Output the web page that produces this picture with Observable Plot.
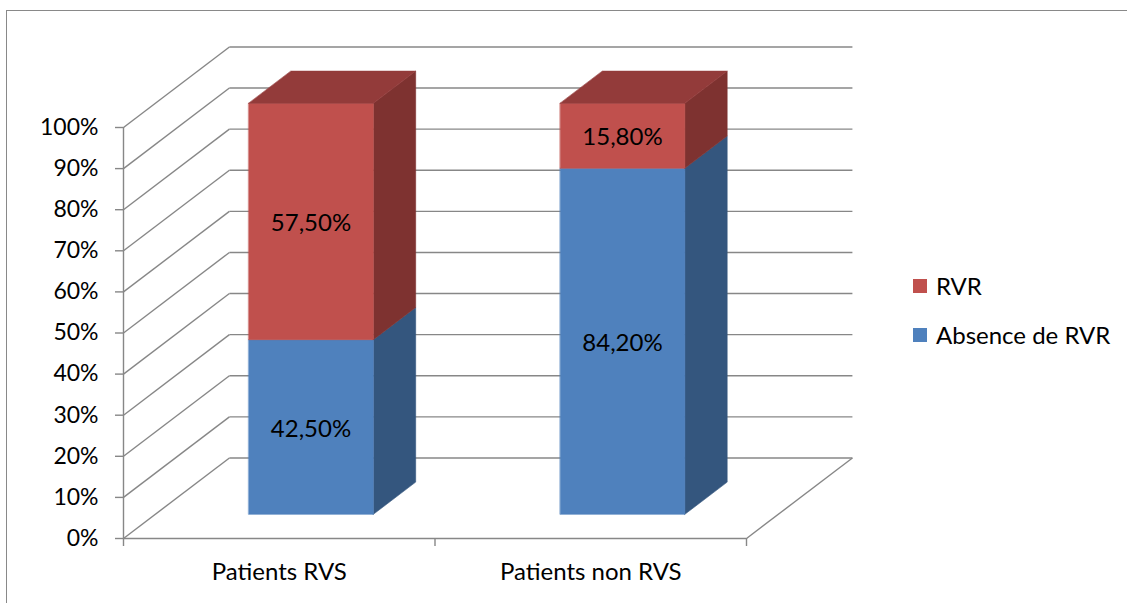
<!DOCTYPE html>
<html>
<head>
<meta charset="utf-8">
<script src="https://cdn.jsdelivr.net/npm/d3@7"></script>
<script src="https://cdn.jsdelivr.net/npm/@observablehq/plot@0.6"></script>
<style>
  html, body { margin: 0; padding: 0; background: #fff; overflow: hidden; }
  #wrap { position: relative; width: 1127px; height: 603px; font-family: Lato, sans-serif; }
  #chart { position: absolute; left: 0; top: 0; }
  #frame { position: absolute; left: 6px; top: 10px; width: 1300px; height: 800px;
           border: 1.6px solid #898989; box-sizing: border-box; pointer-events: none; }
  .leg { position: absolute; left: 913px; font-size: 24px; line-height: 1; color: #000; white-space: nowrap; }
  .sw { position: absolute; left: 0; width: 14px; height: 14px; }
  .lt { position: absolute; left: 23px; }
</style>
</head>
<body>
<div id="wrap">
  <div id="chart"></div>
  <div id="frame"></div>
  <div id="legend"></div>
</div>
<script>
// ---- data ----
const categories = ["Patients RVS", "Patients non RVS"];
const seriesNames = ["Absence de RVR", "RVR"];
const absenceRVR = [42.5, 84.2];
const rvr = [57.5, 15.8];
const yTicks = [0, 10, 20, 30, 40, 50, 60, 70, 80, 90, 100];

// ---- style / geometry ----
const frontColors = {"Absence de RVR": "#4F81BD", "RVR": "#C0504D"};
const sideColors  = {"Absence de RVR": "#34567E", "RVR": "#7E3230"};
const topColors   = {"Absence de RVR": "#3E6594", "RVR": "#933B3A"};
const gridColor = "#878787";
const DX = 0.34;   // depth shift along x (category units)
const DY = 19.6;   // depth shift along y (percent units)
const BAR_W = 0.4, Z0 = 0.3, Z1 = 0.7;
const P = (x, y, z) => [x + z * DX, y + z * DY];

// walls & floor
const leftWall = yTicks.map(t => { const a = P(0, t, 0), b = P(0, t, 1); return {x1: a[0], y1: a[1], x2: b[0], y2: b[1]}; });
const backWall = yTicks.map(t => { const a = P(0, t, 1), b = P(categories.length, t, 1); return {x1: a[0], y1: a[1], x2: b[0], y2: b[1]}; });
const floorEdge = [(() => { const a = P(categories.length, 0, 0), b = P(categories.length, 0, 1); return {x1: a[0], y1: a[1], x2: b[0], y2: b[1]}; })()];

// bars
const faces = [];
const labels = [];
categories.forEach((c, i) => {
  const x0 = i + 0.5 - BAR_W / 2, x1 = i + 0.5 + BAR_W / 2;
  let base = 0;
  const segs = [["Absence de RVR", absenceRVR[i]], ["RVR", rvr[i]]];
  segs.forEach(([name, v], k) => {
    const y0 = base, y1 = base + v;
    faces.push({pts: [P(x1, y0, Z0), P(x1, y0, Z1), P(x1, y1, Z1), P(x1, y1, Z0)], color: sideColors[name]});
    faces.push({pts: [P(x0, y0, Z0), P(x1, y0, Z0), P(x1, y1, Z0), P(x0, y1, Z0)], color: frontColors[name]});
    if (k === segs.length - 1) {
      faces.push({pts: [P(x0, y1, Z0), P(x1, y1, Z0), P(x1, y1, Z1), P(x0, y1, Z1)], color: topColors[name]});
    }
    const m = P(i + 0.5, (y0 + y1) / 2, Z0);
    labels.push({x: m[0], y: m[1], text: v.toFixed(2).replace(".", ",") + "%"});
    base = y1;
  });
});

const marks = [
  Plot.link(leftWall, {x1: "x1", y1: "y1", x2: "x2", y2: "y2", stroke: gridColor, strokeWidth: 1.4}),
  Plot.link(backWall, {x1: "x1", y1: "y1", x2: "x2", y2: "y2", stroke: gridColor, strokeWidth: 1.4}),
  Plot.link(floorEdge, {x1: "x1", y1: "y1", x2: "x2", y2: "y2", stroke: gridColor, strokeWidth: 1.4}),
  Plot.ruleX([0], {y1: 0, y2: 100, stroke: gridColor, strokeWidth: 1.4}),
  Plot.ruleY([0], {x1: 0, x2: categories.length, stroke: gridColor, strokeWidth: 1.4}),
  Plot.axisY({ticks: yTicks, tickFormat: d => d + "%", tickSize: 8, tickPadding: 17, stroke: gridColor, strokeWidth: 1.4, fill: "#000", fontSize: 23, label: null}),
  Plot.axisX({ticks: d3.range(categories.length + 1), tickFormat: () => "", tickSize: 8, stroke: gridColor, strokeWidth: 1.4, label: null}),
  Plot.text(categories, {x: (d, i) => i + 0.5, y: () => 0, text: d => d, dy: 34, fontSize: 24, fill: "#000"}),
  ...faces.map(f => Plot.line(f.pts, {x: d => d[0], y: d => d[1], curve: "linear-closed", fill: f.color, stroke: f.color, strokeWidth: 0.6})),
  Plot.text(labels, {x: "x", y: "y", text: "text", dy: 2, fontSize: 24, fill: "#000"})
];

const plot = Plot.plot({
  width: 1127, height: 603,
  marginLeft: 123, marginRight: 381, marginTop: 127, marginBottom: 65,
  x: {domain: [0, categories.length]},
  y: {domain: [0, 100]},
  style: {fontFamily: "Lato, sans-serif", fontSize: "23px", background: "transparent", overflow: "visible"},
  marks
});
document.getElementById("chart").appendChild(plot);

// legend (RVR on top)
const legend = document.getElementById("legend");
const legendOrder = seriesNames.slice().reverse();
legendOrder.forEach((name, k) => {
  const top = 279 + k * 49;
  const div = document.createElement("div");
  div.className = "leg";
  div.style.top = top + "px";
  div.innerHTML = `<span class="sw" style="background:${frontColors[name]}"></span><span class="lt" style="top:-5px">${name}</span>`;
  legend.appendChild(div);
});
</script>
</body>
</html>
